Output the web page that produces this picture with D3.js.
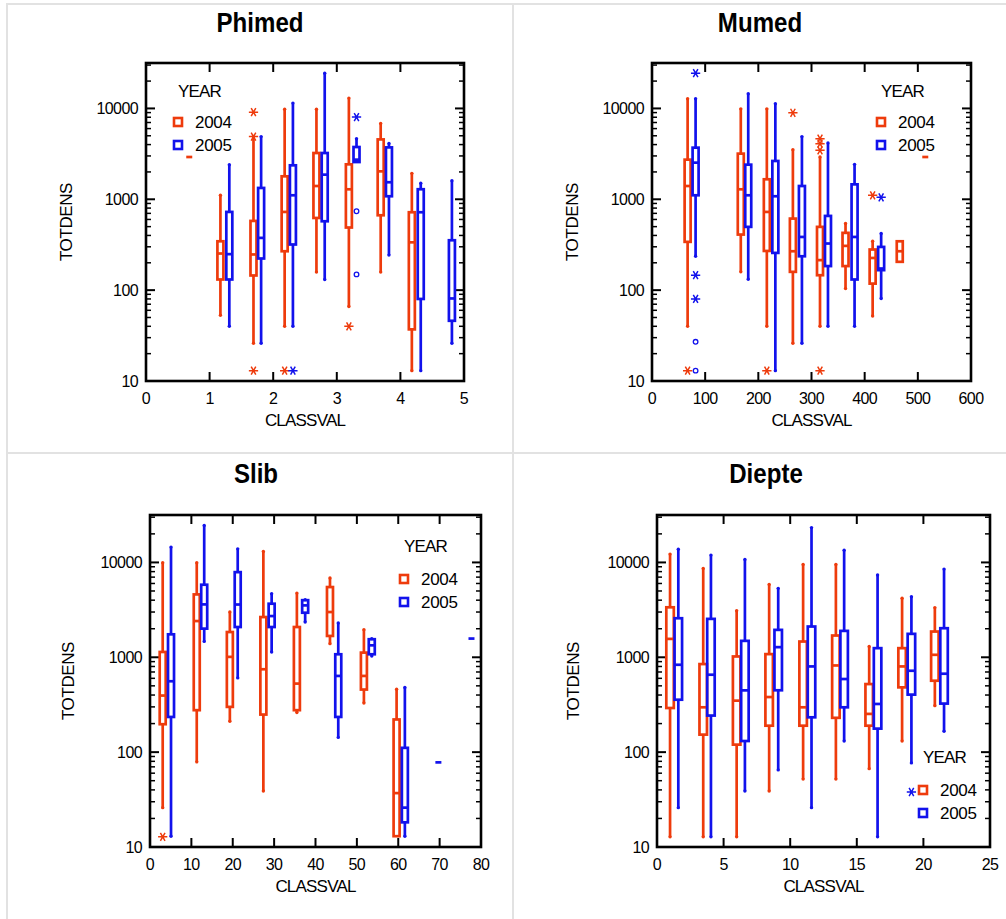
<!DOCTYPE html>
<html><head><meta charset="utf-8">
<script src="https://cdn.jsdelivr.net/npm/d3@7"></script>
<style>
body{margin:0;background:#fff}
text{font-family:"Liberation Sans",Arial,sans-serif;fill:#000}
.title{font-family:"Liberation Sans",Arial,sans-serif;font-weight:bold}
</style>
</head><body><svg id="c" width="1006" height="919"></svg>
<script>
// ---------- DATA ----------
const years = ["2004", "2005"];
const yTicks = [10, 100, 1000, 10000];
const yDomain = [10, 31623];
const titles = ["Phimed", "Mumed", "Slib", "Diepte"];
const xTicksPhimed = [0, 1, 2, 3, 4, 5];
const xTicksMumed = [0, 100, 200, 300, 400, 500, 600];
const xTicksSlib = [0, 10, 20, 30, 40, 50, 60, 70, 80];
const xTicksDiepte = [0, 5, 10, 15, 20, 25];

// box stats: [classval, low whisker, q1, median, q3, high whisker]
const phimed2004 = [[0.68,2920,2920,2920,2920,2920],[1.17,53,131,253,345,1107],[1.69,26,145,247,578,4920],[2.18,40,268,726,1790,9800],[2.68,158,623,1400,3230,9800],[3.19,66,489,1288,2425,13000],[3.69,158,667,2030,4560,6840],[4.18,13,37,336,720,1930]];
const phimed2005 = [[1.31,40,131,249,726,2400],[1.81,26,223,376,1333,4900],[2.31,40,318,1107,2365,11450],[2.81,131,573,1867,3230,24400],[3.31,2570,2570,2730,3760,4640],[3.82,243,1080,1540,3725,4120],[4.32,13,80,720,1290,1500],[4.81,26,46,81,354,1600]];
const phimedStars2004 = [[1.69,9100],[1.69,4900],[1.69,13],[2.18,13],[3.19,40]];
const phimedStars2005 = [[2.31,13],[3.31,8030]];
const phimedCircles2005 = [[3.31,738],[3.31,149]];

const mumed2004 = [[67,40,340,1400,2730,12800],[167,159,409,1288,3180,9900],[216,40,270,726,1660,9900],[265,26,159,268,613,3520],[316,40,146,214,497,2920],[364,104,184,307,427,541],[415,52,118,226,280,345],[466,205,205,268,345,345],[514,2920,2920,2920,2920,2920]];
const mumed2005 = [[82,236,1107,2530,3700,12800],[181,132,497,1107,2405,14500],[232,13,257,1080,2640,11250],[282,26,236,385,1400,4900],[331,40,184,326,656,4160],[381,40,131,385,1460,2425],[431,81,166,173,299,420]];
const mumedStars2004 = [[67,13],[216,13],[265,8960],[316,4640],[316,4090],[316,3460],[316,13],[415,1107]];
const mumedStars2005 = [[82,24400],[82,146],[82,80],[431,1050]];
const mumedCircles2005 = [[82,27],[82,13]];

const slib2004 = [[3.07,26,197,395,1138,9930],[11.3,79,277,2410,4600,9930],[19.3,212,300,1010,1846,3000],[27.4,39,249,748,2655,13050],[35.5,262,277,528,2085,4750],[43.5,1393,1679,3000,5500,6840],[51.7,330,457,636,1120,1955],[59.6,13,13,37,221,460]];
const slib2005 = [[5.08,13,235,559,1746,14500],[13.1,1470,2005,3610,5820,24500],[21.2,606,2085,3600,7900,13900],[29.4,1138,2085,2720,3670,4680],[37.5,2355,2950,3525,4000,4050],[45.5,143,235,636,1076,2300],[53.6,1033,1076,1337,1550,1573],[61.6,13,18.2,26,111,480],[69.7,78,78,78,78,78],[77.7,1575,1575,1575,1575,1575]];
const slibStars2004 = [[3.07,12.8]];
const slibStars2005 = [];

const diepte2004 = [[0.98,12.8,292,1563,3365,12240],[3.47,12.8,153,297,848,8650],[5.98,12.8,120,349,1020,3100],[8.42,39,190,381,1080,5870],[10.97,52,190,297,1466,9530],[13.43,52,230,820,1696,9530],[15.93,67,190,253,522,1300],[18.4,131,482,801,1248,4190],[20.86,309,566,1062,1868,3340]];
const diepte2005 = [[1.6,26,357,834,2580,13800],[4.05,12.8,243,655,2540,11940],[6.6,39,131,448,1490,10750],[9.1,65,449,1279,1945,5330],[11.6,26,233,801,2110,23300],[14.05,131,297,590,1898,13480],[16.56,12.8,177,322,1248,7360],[19.1,77,404,721,1766,4360],[21.55,166,325,671,2025,8510]];
const diepteStars2004 = [];
const diepteStars2005 = [[19.1,38]];

// ---------- LAYOUT / STYLE ----------
const colors = {"2004": "#ee3b0c", "2005": "#1212ec"};
const panels = [
  {title: titles[0], cx: 260, ty: 32, box: [146, 63, 464, 381], xDomain: [0, 5], xTicks: xTicksPhimed,
   data: {"2004": phimed2004, "2005": phimed2005}, stars: {"2004": phimedStars2004, "2005": phimedStars2005},
   circles: {"2004": [], "2005": phimedCircles2005}, bw: 6, leg: [173, 97, 122, 145], ylx: 66},
  {title: titles[1], cx: 760, ty: 32, box: [652, 63, 971, 381], xDomain: [0, 600], xTicks: xTicksMumed,
   data: {"2004": mumed2004, "2005": mumed2005}, stars: {"2004": mumedStars2004, "2005": mumedStars2005},
   circles: {"2004": [], "2005": mumedCircles2005}, bw: 6, leg: [876, 97, 122, 145], ylx: 572},
  {title: titles[2], cx: 256, ty: 483, box: [150, 515, 481, 847], xDomain: [0, 80], xTicks: xTicksSlib,
   data: {"2004": slib2004, "2005": slib2005}, stars: {"2004": slibStars2004, "2005": slibStars2005},
   circles: {"2004": [], "2005": []}, bw: 6, leg: [399, 552, 579, 602], ylx: 68},
  {title: titles[3], cx: 766, ty: 483, box: [657, 515, 990, 847], xDomain: [0, 25], xTicks: xTicksDiepte,
   data: {"2004": diepte2004, "2005": diepte2005}, stars: {"2004": diepteStars2004, "2005": diepteStars2005},
   circles: {"2004": [], "2005": []}, bw: 7.5, leg: [918, 763, 790, 813], ylx: 573}
];

const svg = d3.select("#c");
// cell borders
const g0 = svg.append("g").attr("stroke", "#e2e2e2").attr("stroke-width", 2).attr("fill", "none");
g0.append("rect").attr("x", 7).attr("y", 4).attr("width", 1005).attr("height", 920);
g0.append("line").attr("x1", 513).attr("x2", 513).attr("y1", 4).attr("y2", 919);
g0.append("line").attr("x1", 7).attr("x2", 1006).attr("y1", 453).attr("y2", 453);

panels.forEach(p => {
  const [L, T, R, B] = p.box;
  const x = d3.scaleLinear().domain(p.xDomain).range([L, R]);
  const y = d3.scaleLog().domain(yDomain).range([B, T]);
  const g = svg.append("g");

  g.append("text").attr("class", "title")
    .attr("transform", `translate(${p.cx},${p.ty}) scale(0.86,1)`)
    .attr("text-anchor", "middle").attr("font-size", 28).text(p.title);

  // minor ticks values
  const minor = [];
  for (let d = 10; d <= 10000; d *= 10) for (let k = 2; k <= 9; k++) { const v = d * k; if (v <= yDomain[1]) minor.push(v); }

  const tk = g.append("g").attr("stroke", "#000").attr("stroke-width", 2);
  yTicks.forEach(v => {
    tk.append("line").attr("x1", L).attr("x2", L + 9).attr("y1", y(v)).attr("y2", y(v));
    tk.append("line").attr("x1", R).attr("x2", R - 9).attr("y1", y(v)).attr("y2", y(v));
  });
  minor.forEach(v => {
    tk.append("line").attr("x1", L).attr("x2", L + 5).attr("y1", y(v)).attr("y2", y(v)).attr("stroke-width", 1.5);
    tk.append("line").attr("x1", R).attr("x2", R - 5).attr("y1", y(v)).attr("y2", y(v)).attr("stroke-width", 1.5);
  });
  p.xTicks.forEach(v => {
    tk.append("line").attr("x1", x(v)).attr("x2", x(v)).attr("y1", B).attr("y2", B - 9);
    tk.append("line").attr("x1", x(v)).attr("x2", x(v)).attr("y1", T).attr("y2", T + 9);
  });
  g.append("rect").attr("x", L).attr("y", T).attr("width", R - L).attr("height", B - T)
    .attr("fill", "none").attr("stroke", "#000").attr("stroke-width", 2.6);

  // tick labels
  yTicks.forEach(v => {
    g.append("text").attr("x", L - 8).attr("y", y(v) + 6).attr("text-anchor", "end")
      .attr("font-size", 16).attr("letter-spacing", -0.6).text(d3.format("d")(v));
  });
  p.xTicks.forEach(v => {
    g.append("text").attr("x", x(v)).attr("y", B + 23).attr("text-anchor", "middle")
      .attr("font-size", 16).attr("letter-spacing", -0.6).text(v);
  });
  g.append("text").attr("x", (L + R) / 2).attr("y", B + 45).attr("text-anchor", "middle")
    .attr("font-size", 17).attr("letter-spacing", -0.8).text("CLASSVAL");
  g.append("text").attr("transform", `translate(${p.ylx},${(T + B) / 2}) rotate(-90)`)
    .attr("text-anchor", "middle").attr("dy", 6).attr("font-size", 17).attr("letter-spacing", -0.4).text("TOTDENS");

  // boxes
  years.forEach(yr => {
    const c = colors[yr];
    const gg = g.append("g").attr("stroke", c).attr("stroke-width", 2.7).attr("fill", "none");
    p.data[yr].forEach(d => {
      const [cv, lo, q1, med, q3, hi] = d;
      const cx = x(cv), w = p.bw;
      gg.append("line").attr("x1", cx).attr("x2", cx).attr("y1", y(hi)).attr("y2", y(q3));
      gg.append("line").attr("x1", cx).attr("x2", cx).attr("y1", y(q1)).attr("y2", y(lo));
      const h = Math.max(y(q1) - y(q3), 0);
      gg.append("rect").attr("x", cx - w / 2).attr("y", y(q3)).attr("width", w).attr("height", h);
      gg.append("line").attr("x1", cx - w / 2).attr("x2", cx + w / 2).attr("y1", y(med)).attr("y2", y(med));
      if (hi !== q3) gg.append("circle").attr("cx", cx).attr("cy", y(hi)).attr("r", 1.7).attr("fill", c).attr("stroke", "none");
      if (lo !== q1) gg.append("circle").attr("cx", cx).attr("cy", y(lo)).attr("r", 1.7).attr("fill", c).attr("stroke", "none");
    });
    const star = d3.symbol().type(d3.symbolAsterisk).size(60);
    p.stars[yr].forEach(d => {
      g.append("path").attr("d", star).attr("transform", `translate(${x(d[0])},${y(d[1])}) rotate(90)`)
        .attr("stroke", c).attr("stroke-width", 1.5).attr("fill", "none");
    });
    p.circles[yr].forEach(d => {
      g.append("circle").attr("cx", x(d[0])).attr("cy", y(d[1])).attr("r", 2.3)
        .attr("stroke", c).attr("stroke-width", 1.3).attr("fill", "none");
    });
  });

  // legend
  const [lx, ly, l1, l2] = p.leg;
  g.append("text").attr("x", lx + 5).attr("y", ly).attr("font-size", 17).attr("letter-spacing", -0.8).text("YEAR");
  [[years[0], l1], [years[1], l2]].forEach(([yr, yy]) => {
    g.append("rect").attr("x", lx + 1).attr("y", yy - 4).attr("width", 8).attr("height", 8)
      .attr("fill", "#fff").attr("stroke", colors[yr]).attr("stroke-width", 2.6);
    g.append("text").attr("x", lx + 22).attr("y", yy + 6).attr("font-size", 17).attr("letter-spacing", -0.3).text(yr);
  });
});
</script>
</body></html>
